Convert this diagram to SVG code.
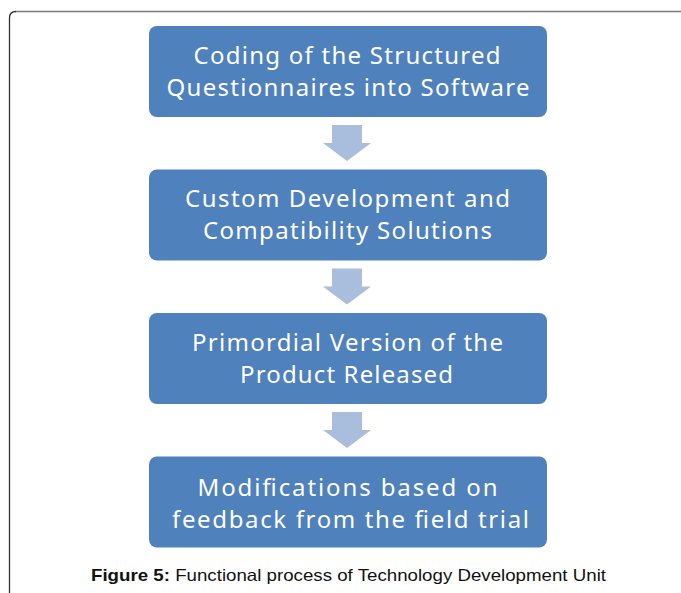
<svg xmlns="http://www.w3.org/2000/svg" width="681" height="593" viewBox="0 0 681 593">
  <style>
    .box { fill: #4f81bd; }
    .lbl { fill: #ffffff; font-family: "Noto Sans", "Open Sans", "DejaVu Sans", sans-serif; font-size: 24px; text-anchor: middle; }
    .step { fill: #a9bddc; }
    .cap { font-family: "Liberation Sans", Arial, sans-serif; font-size: 16.5px; fill: #111111; }
  </style>
  <defs>
    <!-- block arrow pointing down, origin at top of shaft centre -->
    <path id="down" d="M-15,0 H15 V18 H24 L0,36 L-24,18 H-15 Z"/>
  </defs>

  <rect width="681" height="593" fill="#ffffff"/>

  <!-- frame -->
  <path d="M9.5,593 V18 Q9.5,11.5 16,11.5" fill="none" stroke="#333333" stroke-width="1.3"/>
  <path d="M16,11.5 H681" fill="none" stroke="#7a7a7a" stroke-width="1.6"/>

  <g id="connectors">
    <use href="#down" class="step" x="347" y="125"/>
    <use href="#down" class="step" x="347" y="268.5"/>
    <use href="#down" class="step" x="347" y="412"/>
  </g>

  <g id="n1">
    <rect class="box" x="149" y="26" width="398" height="91" rx="8"/>
    <text class="lbl" x="347" y="63.5" textLength="307">Coding of the Structured</text>
    <text class="lbl" x="348" y="95.5" textLength="363">Questionnaires  into Software</text>
  </g>

  <g id="n2">
    <rect class="box" x="149" y="169.5" width="398" height="91" rx="8"/>
    <text class="lbl" x="347.5" y="207" textLength="325">Custom Development  and</text>
    <text class="lbl" x="347.5" y="239" textLength="289">Compatibility  Solutions</text>
  </g>

  <g id="n3">
    <rect class="box" x="149" y="313" width="398" height="91" rx="8"/>
    <text class="lbl" x="347.5" y="350.5" textLength="311">Primordial Version of the</text>
    <text class="lbl" x="346.5" y="382.5" textLength="213">Product Released</text>
  </g>

  <g id="n4">
    <rect class="box" x="149" y="456.5" width="398" height="91" rx="8"/>
    <text class="lbl" x="347.5" y="496" textLength="300">Modifications  based on</text>
    <text class="lbl" x="350.5" y="527.5" textLength="357">feedback  from the field  trial</text>
  </g>

  <text class="cap" x="91" y="581" textLength="515" lengthAdjust="spacingAndGlyphs"><tspan font-weight="bold">Figure 5:</tspan> Functional process of Technology Development Unit</text>
</svg>
